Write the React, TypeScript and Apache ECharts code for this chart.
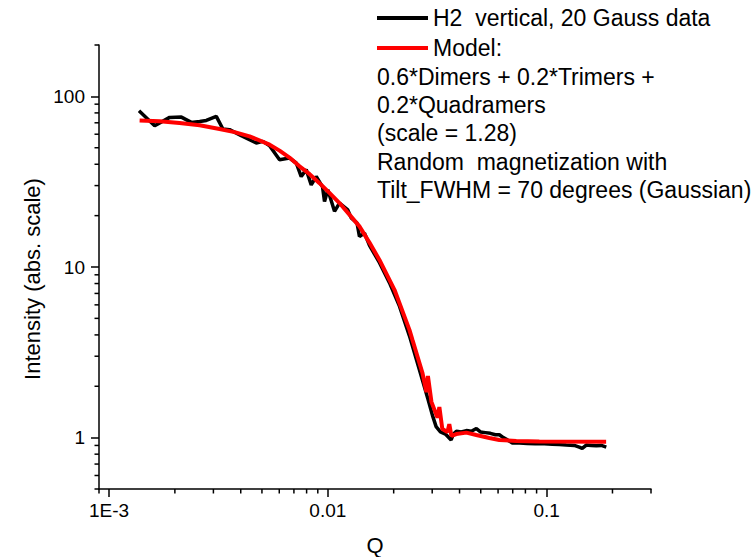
import { useEffect, useRef } from "react";
import * as echarts from "echarts";

// ---- axis ticks ----
const xTickValues = [0.001, 0.01, 0.1];
const xTickLabels = ["1E-3", "0.01", "0.1"];
const yTickValues = [1, 10, 100];
const yTickLabels = ["1", "10", "100"];
const xRange = [0.0009, 0.3];
const yRange = [0.5, 200];

// ---- measured data (black) ----
const dataQ = [
  0.001371, 0.001617, 0.001893, 0.002141, 0.002378, 0.002596, 0.002784, 0.003093, 0.003315, 0.003557,
  0.004022, 0.00471, 0.005049, 0.005418, 0.006018, 0.006684, 0.007172, 0.007559, 0.007968, 0.008398,
  0.008851, 0.009458, 0.00966, 0.01, 0.01073, 0.01131, 0.01234, 0.01279, 0.0136, 0.01395,
  0.01471, 0.0155, 0.01722, 0.01912, 0.02125, 0.02361, 0.02622, 0.02862, 0.03008, 0.03126,
  0.03271, 0.03447, 0.03661, 0.0375, 0.0387, 0.04077, 0.04299, 0.04531, 0.04775, 0.04983,
  0.0525, 0.05534, 0.05832, 0.06081, 0.06343, 0.06615, 0.06972, 0.07506, 0.08165, 0.08881,
  0.09761, 0.1062, 0.1143, 0.123, 0.1338, 0.141, 0.1455, 0.1518, 0.16, 0.1687,
  0.1778, 0.1874,
];
const dataI = [
  82.4, 67.3, 75.3, 75.6, 70.4, 71.3, 72.3, 76.3, 64.4, 63.8,
  58.8, 53.3, 54.5, 51.4, 42.5, 43.5, 40.7, 33.9, 37.2, 30.3,
  33.9, 29.5, 24.2, 28.4, 21.2, 23.7, 21.6, 19.4, 18.1, 15.1,
  15.8, 13.4, 10.6, 8.1, 5.9, 3.95, 2.5, 1.7, 1.35, 1.16,
  1.08, 1.05, 0.969, 1.05, 1.09, 1.08, 1.1, 1.09, 1.13, 1.08,
  1.07, 1.06, 1.04, 1.04, 1.0, 0.97, 0.93, 0.93, 0.925, 0.92,
  0.92, 0.915, 0.91, 0.905, 0.9, 0.88, 0.865, 0.905, 0.9, 0.895,
  0.9, 0.88,
];

// ---- model (red) ----
const modelQ = [
  0.00138, 0.001704, 0.0021, 0.002596, 0.0032, 0.00375, 0.00439, 0.00542, 0.006018, 0.00668,
  0.007427, 0.00826, 0.009166, 0.0102, 0.01131, 0.0125, 0.01395, 0.0155, 0.01722, 0.02017,
  0.02361, 0.02437, 0.02706, 0.02823, 0.02868, 0.02976, 0.0317, 0.03235, 0.03337, 0.03522,
  0.03591, 0.03672, 0.03866, 0.04299, 0.0477, 0.05475, 0.0608, 0.0727, 0.0926, 0.1871,
];
const modelI = [
  72.3, 71.5, 69.8, 67.8, 64.4, 61.7, 58.3, 52.1, 48.1, 43.8,
  38.9, 35.0, 31.0, 27.1, 23.7, 20.4, 17.3, 13.9, 11.0, 7.35,
  4.28, 3.74, 2.4, 1.85, 2.3, 1.62, 1.31, 1.51, 1.124, 1.08,
  1.2, 1.023, 1.05, 1.07, 1.037, 0.996, 0.969, 0.956, 0.95, 0.947,
];

const seriesNames = ["H2  vertical, 20 Gauss data", "Model:"];
const noteLines = [
  "0.6*Dimers + 0.2*Trimers +",
  "0.2*Quadramers",
  "(scale = 1.28)",
  "Random  magnetization with",
  "Tilt_FWHM = 70 degrees (Gaussian)",
];
const xTitle = "Q";
const yTitle = "Intensity (abs. scale)";

const FONT = "'Liberation Sans', Arial, Helvetica, sans-serif";
const lg = (v: number) => Math.log10(v);

function minorTicks(lo: number, hi: number): number[] {
  const out: number[] = [];
  for (let e = Math.floor(lg(lo)); e <= Math.ceil(lg(hi)); e++) {
    for (let k = 2; k <= 9; k++) {
      const v = k * Math.pow(10, e);
      if (v >= lo * 0.9999 && v <= hi * 1.0001) out.push(lg(v));
    }
  }
  return out;
}

function makeFormatter(vals: number[], labels: string[]) {
  return (v: number) => {
    const i = vals.findIndex((t) => Math.abs(lg(t) - v) < 1e-6);
    return i >= 0 ? labels[i] : "";
  };
}

export default function App() {
  const ref = useRef<HTMLDivElement>(null);
  useEffect(() => {
    if (!ref.current) return;
    const chart = echarts.init(ref.current, undefined, { renderer: "svg" });
    const xMin = lg(xRange[0]);
    const xMax = lg(xRange[1]);
    const yMin = lg(yRange[0]);
    const yMax = lg(yRange[1]);
    const xMinor = minorTicks(xRange[0], xRange[1]);
    const yMinor = minorTicks(yRange[0], yRange[1]);
    const option: any = {
      animation: false,
      backgroundColor: "#fff",
      grid: { left: 99, right: 105, top: 45, bottom: 68 },
      xAxis: {
        type: "value",
        min: xMin,
        max: xMax,
        position: "bottom",
        axisLine: { show: true, onZero: false, lineStyle: { color: "#000", width: 1.5 } },
        axisTick: { show: true, customValues: xTickValues.map(lg), length: 8, lineStyle: { color: "#000", width: 1.5 } },
        axisLabel: {
          customValues: xTickValues.map(lg),
          formatter: makeFormatter(xTickValues, xTickLabels),
          fontSize: 19,
          fontFamily: FONT,
          color: "#000",
          margin: 12,
        },
        splitLine: { show: false },
      },
      yAxis: {
        type: "value",
        min: yMin,
        max: yMax,
        position: "left",
        axisLine: { show: true, onZero: false, lineStyle: { color: "#000", width: 1.5 } },
        axisTick: { show: true, customValues: yTickValues.map(lg), length: 8, lineStyle: { color: "#000", width: 1.5 } },
        axisLabel: {
          customValues: yTickValues.map(lg),
          formatter: makeFormatter(yTickValues, yTickLabels),
          fontSize: 19,
          fontFamily: FONT,
          color: "#000",
          margin: 14,
        },
        splitLine: { show: false },
      },
      legend: {
        left: 377,
        top: 4,
        padding: 0,
        orient: "vertical",
        icon: "rect",
        itemWidth: 51,
        itemHeight: 4,
        itemGap: 2,
        data: seriesNames,
        textStyle: { fontSize: 23, lineHeight: 28, color: "#000", fontFamily: FONT },
      },
      series: [
        {
          type: "custom",
          clip: false,
          data: xMinor.map((v) => [v, yMin]),
          renderItem: (_p: any, api: any) => {
            const pt = api.coord([api.value(0), api.value(1)]);
            return {
              type: "line",
              shape: { x1: pt[0], y1: pt[1], x2: pt[0], y2: pt[1] + 4.5 },
              style: { stroke: "#000", lineWidth: 1.5 },
            };
          },
        },
        {
          type: "custom",
          clip: false,
          data: yMinor.map((v) => [xMin, v]),
          renderItem: (_p: any, api: any) => {
            const pt = api.coord([api.value(0), api.value(1)]);
            return {
              type: "line",
              shape: { x1: pt[0] - 4.5, y1: pt[1], x2: pt[0], y2: pt[1] },
              style: { stroke: "#000", lineWidth: 1.5 },
            };
          },
        },
        {
          type: "line",
          name: seriesNames[0],
          data: dataQ.map((q, i) => [lg(q), lg(dataI[i])]),
          showSymbol: false,
          symbol: "none",
          lineStyle: { color: "#000", width: 3.5 },
          itemStyle: { color: "#000" },
          z: 2,
        },
        {
          type: "line",
          name: seriesNames[1],
          data: modelQ.map((q, i) => [lg(q), lg(modelI[i])]),
          showSymbol: false,
          symbol: "none",
          lineStyle: { color: "#ff0000", width: 4 },
          itemStyle: { color: "#ff0000" },
          z: 3,
        },
      ],
      graphic: [
        ...noteLines.map((t, i) => ({
          type: "text",
          x: 377,
          y: 76.7 + i * 28.3,
          style: { text: t, fontSize: 23, fontFamily: FONT, fill: "#000", align: "left", verticalAlign: "middle" },
        })),
        {
          type: "text",
          x: 32,
          y: 279,
          rotation: Math.PI / 2,
          style: { text: yTitle, fontSize: 22, fontFamily: FONT, fill: "#000", align: "center", verticalAlign: "middle" },
        },
        {
          type: "text",
          x: 375,
          y: 545,
          style: { text: xTitle, fontSize: 22, fontFamily: FONT, fill: "#000", align: "center", verticalAlign: "middle" },
        },
      ],
    };
    chart.setOption(option);
    return () => chart.dispose();
  }, []);
  return <div ref={ref} style={{ position: "absolute", left: 0, top: 0, width: 756, height: 557 }} />;
}
